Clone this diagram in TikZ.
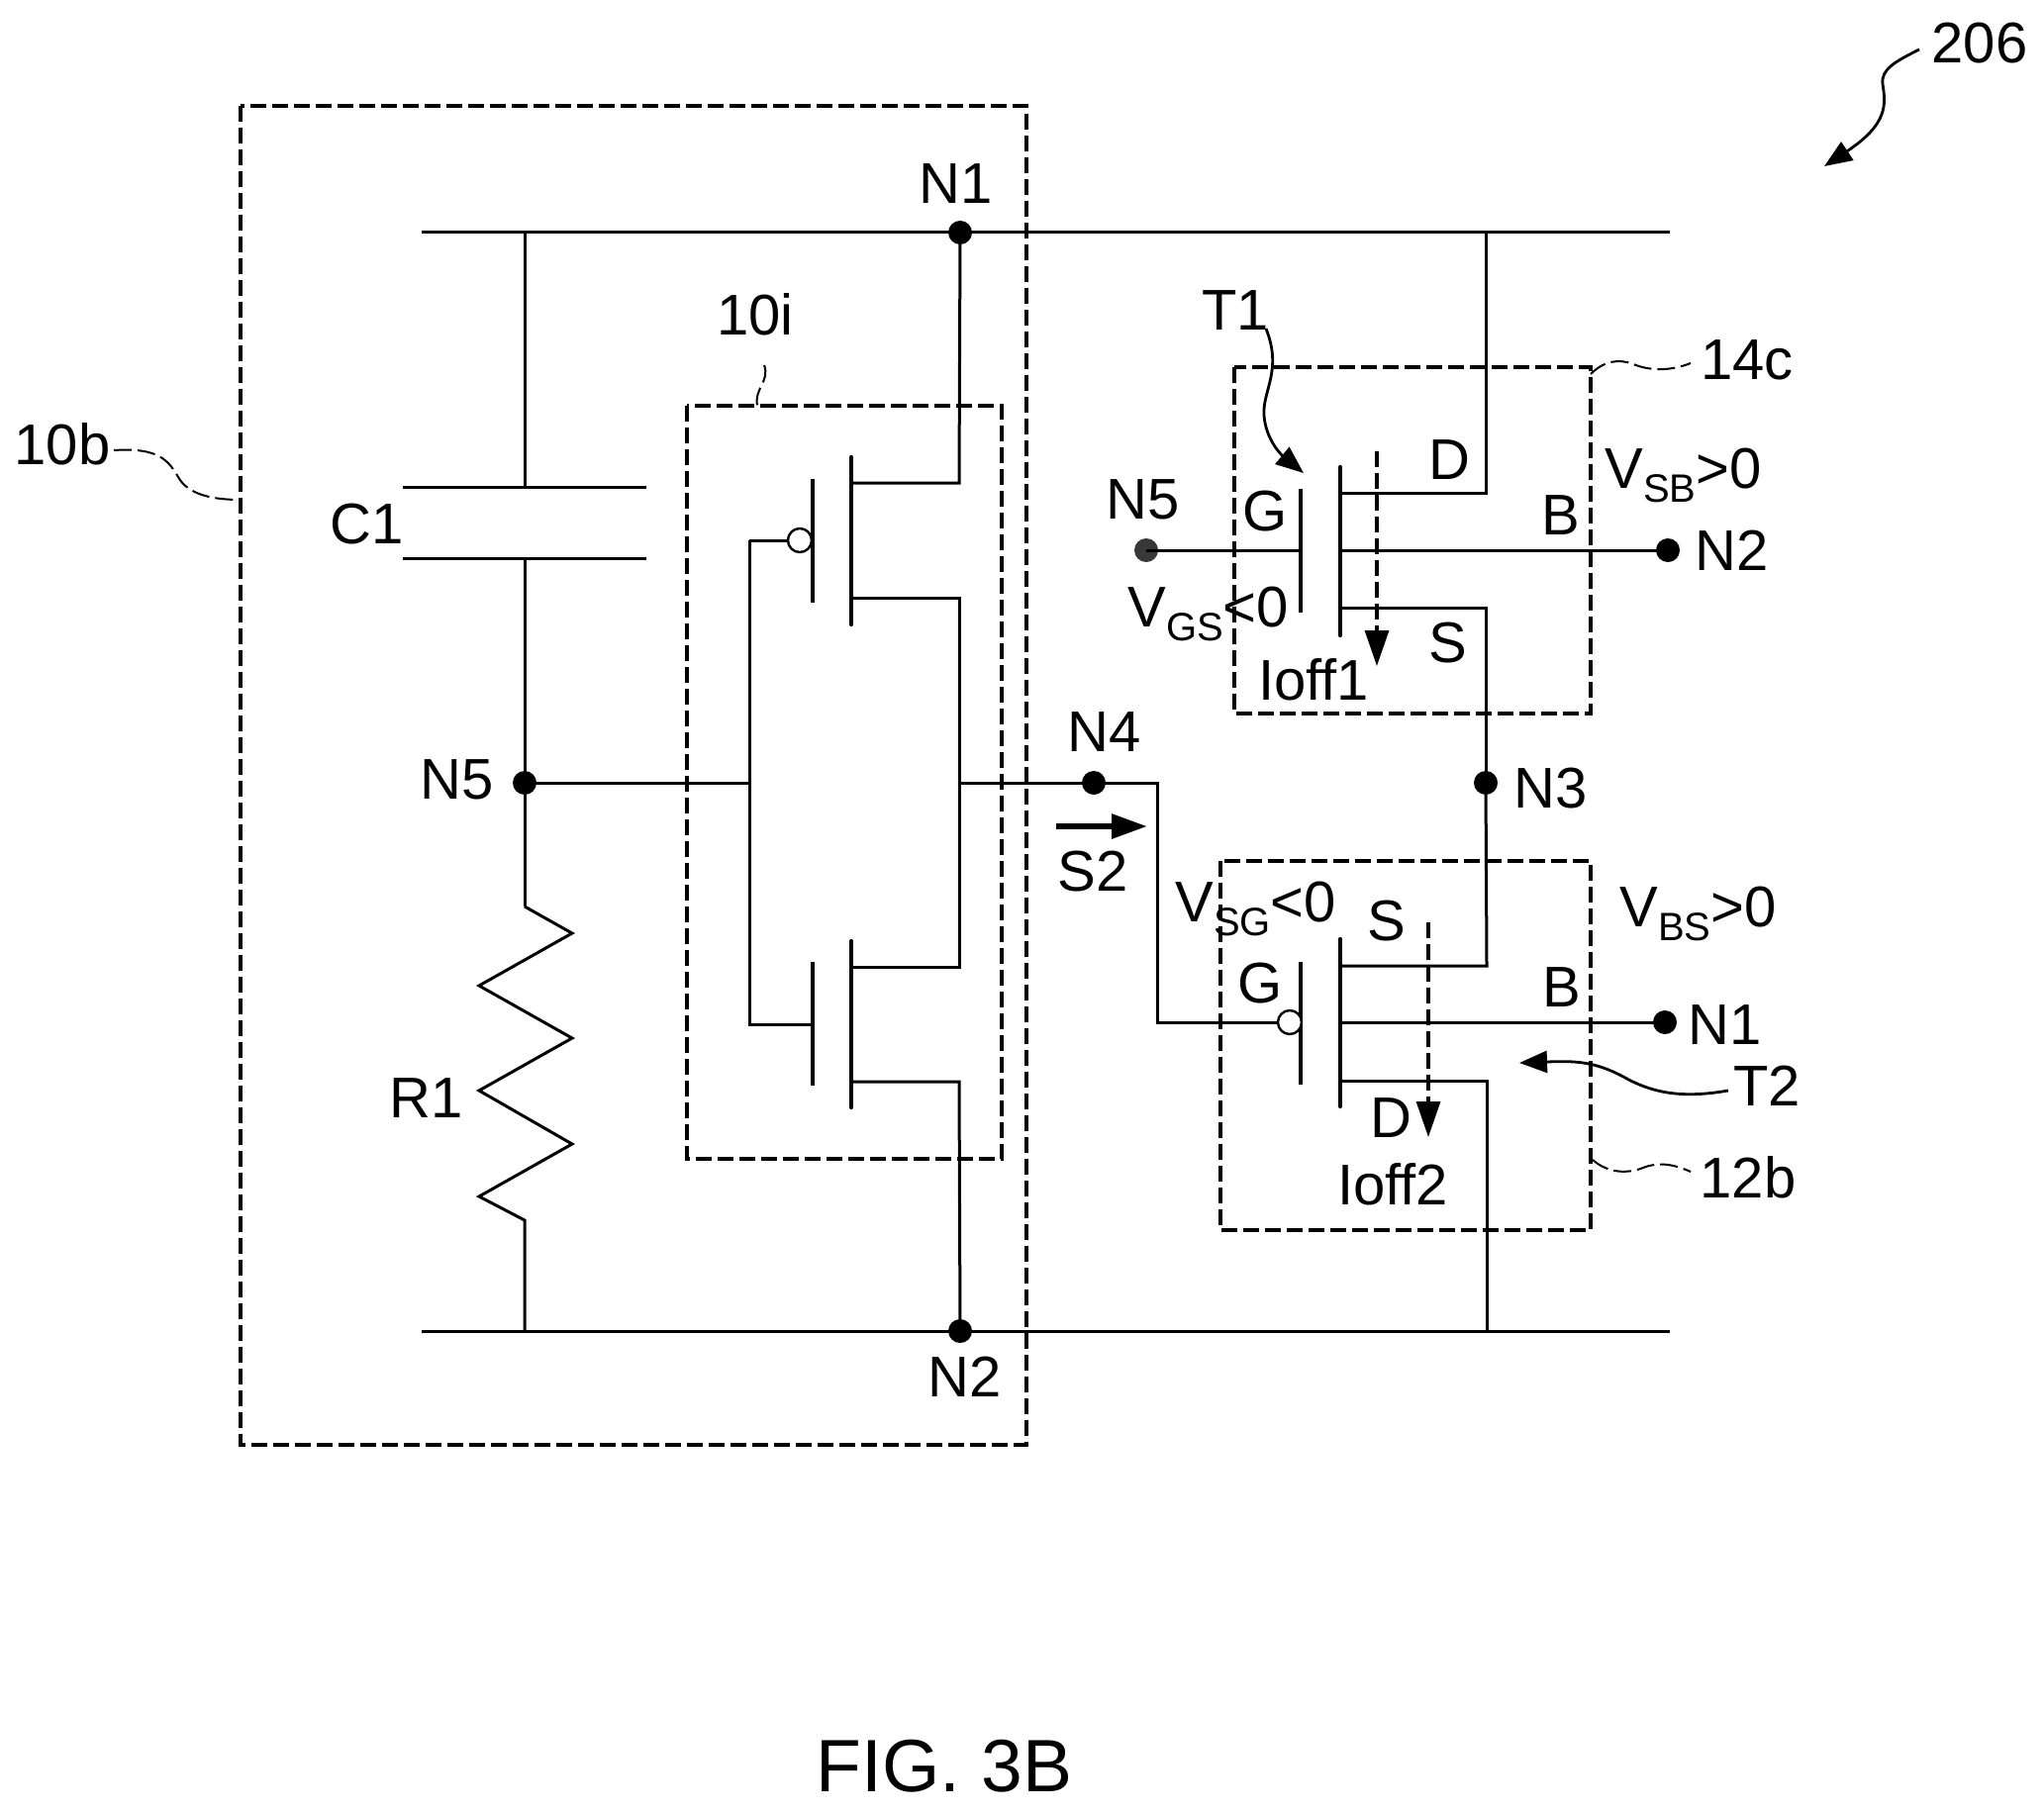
\documentclass[tikz,border=0pt]{standalone}
\usepackage{fontspec}
\setmainfont{Liberation Sans}
\usetikzlibrary{arrows.meta}
\newcommand{\vlab}[3]{{\fontsize{29}{29}\selectfont V\raisebox{-7pt}{\fontsize{20}{20}\selectfont #1}#2#3}}
\tikzset{
  wire/.style={line width=1.5pt,line join=miter},
  gatebar/.style={line width=1.8pt},
  chanbar/.style={line width=2.1pt,line cap=round},
  boxdash/.style={line width=1.8pt,dash pattern=on 8pt off 3pt},
  leaddash/.style={line width=1pt,dash pattern=on 9pt off 3pt},
  curdash/.style={line width=1.6pt,dash pattern=on 8pt off 3pt,-{Triangle[length=18pt,width=12pt]}},
  curvedl/.style={line width=1.4pt,-{Triangle[length=14pt,width=11pt]}},
  dotn/.style={circle,fill=black,inner sep=0pt,minimum size=12pt},
  stipn/.style={circle,fill=black!78,inner sep=0pt,minimum size=12pt},
  bub/.style={circle,draw,fill=white,line width=1.2pt,inner sep=0pt,minimum size=12pt},
  txt/.style={inner sep=0pt,font=\fontsize{29}{29}\selectfont},
  vtxt/.style={inner sep=0pt,anchor=base west},
}
\begin{document}
\begin{tikzpicture}[x=0.5pt,y=-0.5pt]
\useasboundingbox (0,0) rectangle (2065,1830);
% named points
\coordinate (busTL) at (426,235); \coordinate (busTR) at (1687,235);
\coordinate (busBL) at (426,1345); \coordinate (busBR) at (1687,1345);
\coordinate (capTop) at (530,235); \coordinate (capA) at (530,492);
\coordinate (capB) at (530,564); \coordinate (resTop) at (530,916);
\coordinate (resBot) at (530,1233); \coordinate (capBot) at (530,1345);
\coordinate (plAL) at (407,492); \coordinate (plAR) at (653,492);
\coordinate (plBL) at (407,564); \coordinate (plBR) at (653,564);
% dots
\node[dotn] (dN1) at (970,235) {};
\node[dotn] (dN2) at (970,1345) {};
\node[dotn] (dN5) at (530,791) {};
\node[dotn] (dN4) at (1105,791) {};
\node[dotn] (dN3) at (1501,791) {};
\node[stipn] (dN5b) at (1158,556) {};
\node[dotn] (dN2b) at (1685,556) {};
\node[dotn] (dN1b) at (1682,1033) {};
% buses and capacitor
\draw[wire] (busTL) -- (busTR);
\draw[wire] (busBL) -- (busBR);
\draw[wire] (capTop) -- (capA);
\draw[wire] (plAL) -- (plAR);
\draw[wire] (plBL) -- (plBR);
\draw[wire] (capB) -- (dN5.center) -- (resTop);
\draw[wire] (resTop) -- (578,943) -- (484,996) -- (578,1049) -- (484,1102) -- (578,1156) -- (484,1209) -- (resBot) -- (capBot);
% inverter 10i
\coordinate (invIn) at (757,791); \coordinate (invOut) at (969,791);
\coordinate (pG) at (757,546); \coordinate (nG) at (757,1035);
\coordinate (pD) at (969,488); \coordinate (pS) at (969,604);
\coordinate (nD) at (969,977); \coordinate (nS) at (969,1093);
\draw[wire] (dN5.center) -- (invIn);
\draw[wire] (dN1.center) -- (pD) -- (860,488);
\draw[wire] (860,604) -- (pS) -- (nD) -- (860,977);
\draw[wire] (860,1093) -- (nS) -- (dN2.center);
\draw[wire] (invOut) -- (dN4.center);
\draw[wire] (pG) -- (nG) -- (821,1035);
\draw[wire] (pG) -- (800,546);
\draw[gatebar] (821,484) -- (821,609);
\draw[chanbar] (860,462) -- (860,631);
\draw[gatebar] (821,972) -- (821,1097);
\draw[chanbar] (860,951) -- (860,1119);
\node[bub] (bub1) at (808,546) {};
% T1
\coordinate (t1D) at (1501,498); \coordinate (t1S) at (1501,614);
\coordinate (t1Top) at (1501,235);
\draw[wire] (t1Top) -- (t1D) -- (1354,498);
\draw[wire] (1354,614) -- (t1S) -- (dN3.center);
\draw[wire] (dN5b.center) -- (1314,556);
\draw[wire] (1354,556) -- (dN2b.center);
\draw[gatebar] (1314,494) -- (1314,619);
\draw[chanbar] (1354,472) -- (1354,642);
% T2
\coordinate (t2S) at (1502,976); \coordinate (t2D) at (1502,1092);
\coordinate (t2Bot) at (1502,1345);
\coordinate (gT) at (1169,791); \coordinate (gB) at (1169,1033);
\draw[wire] (dN4.center) -- (gT) -- (gB) -- (1292,1033);
\draw[wire] (dN3.center) -- (t2S) -- (1354,976);
\draw[wire] (1354,1092) -- (t2D) -- (t2Bot);
\draw[wire] (1354,1033) -- (dN1b.center);
\draw[gatebar] (1314,972) -- (1314,1096);
\draw[chanbar] (1354,949) -- (1354,1118);
\node[bub] (bub2) at (1303,1033) {};
% dashed boxes
\draw[boxdash] (243,107) rectangle (1037,1460);
\draw[boxdash] (694,410) rectangle (1012,1171);
\draw[boxdash] (1247,371) rectangle (1607,721);
\draw[boxdash] (1233,870) rectangle (1607,1243);
% current arrows
\coordinate (i1a) at (1391,456); \coordinate (i1b) at (1391,673);
\coordinate (i2a) at (1443,932); \coordinate (i2b) at (1443,1149);
\draw[curdash] (i1a) -- (i1b);
\draw[curdash] (i2a) -- (i2b);
% S2 arrow
\coordinate (s2a) at (1067,835); \coordinate (s2b) at (1159,835);
\draw[line width=3pt,-{Triangle[length=18pt,width=12pt]}] (s2a) -- (s2b);
% leaders
\coordinate (l206a) at (1939,50); \coordinate (l206b) at (1843,168);
\draw[curvedl] (l206a) .. controls (1915,62) and (1900,70) .. (1902,85) .. controls (1905,105) and (1908,125) .. (l206b);
\coordinate (lT1a) at (1279,332); \coordinate (lT1b) at (1317,478);
\draw[curvedl] (lT1a) .. controls (1296,375) and (1275,395) .. (1277,420) .. controls (1279,445) and (1295,460) .. (lT1b);
\coordinate (lT2a) at (1746,1102); \coordinate (lT2b) at (1535,1074);
\draw[curvedl] (lT2a) .. controls (1700,1110) and (1670,1105) .. (1640,1088) .. controls (1610,1072) and (1590,1072) .. (lT2b);
\coordinate (l10ba) at (115,455); \coordinate (l10bb) at (243,505);
\draw[leaddash] (l10ba) .. controls (160,452) and (170,465) .. (180,482) .. controls (190,500) and (215,505) .. (l10bb);
\coordinate (l10ia) at (772,369); \coordinate (l10ib) at (765,410);
\draw[leaddash] (l10ia) .. controls (778,385) and (762,392) .. (l10ib);
\coordinate (l14a) at (1607,378); \coordinate (l14b) at (1708,367);
\draw[leaddash] (l14a) .. controls (1620,365) and (1635,362) .. (1650,368) .. controls (1665,374) and (1685,376) .. (l14b);
\coordinate (l12a) at (1609,1172); \coordinate (l12b) at (1708,1184);
\draw[leaddash] (l12a) .. controls (1625,1186) and (1645,1186) .. (1660,1180) .. controls (1675,1174) and (1690,1176) .. (l12b);
% labels
\node[txt] (t206) at (2000,44) {206};
\node[txt] (t10b) at (63,449) {10b};
\node[txt] (t10i) at (763,318) {10i};
\node[txt] (tC1) at (371,530) {C1};
\node[txt] (tR1) at (431,1110) {R1};
\node[txt] (tN5a) at (462,788) {N5};
\node[txt] (tN1a) at (966,186) {N1};
\node[txt] (tN2a) at (975,1391) {N2};
\node[txt] (tN4) at (1116,740) {N4};
\node[txt] (tN3) at (1567,797) {N3};
\node[txt] (tS2) at (1104,881) {S2};
\node[txt] (tT1) at (1248,314) {T1};
\node[txt] (t14c) at (1765,364) {14c};
\node[txt] (tN5b) at (1155,505) {N5};
\node[txt] (tN2b) at (1750,556) {N2};
\node[txt] (tG1) at (1278,517) {G};
\node[txt] (tD1) at (1464,465) {D};
\node[txt] (tB1) at (1577,521) {B};
\node[txt] (tS1) at (1463,650) {S};
\node[txt] (tI1) at (1327,687) {Ioff1};
\node[txt] (tN1b) at (1743,1036) {N1};
\node[txt] (tT2) at (1785,1097) {T2};
\node[txt] (t12b) at (1766,1190) {12b};
\node[txt] (tG2) at (1273,994) {G};
\node[txt] (tS3) at (1401,931) {S};
\node[txt] (tB2) at (1578,998) {B};
\node[txt] (tD2) at (1405,1130) {D};
\node[txt] (tI2) at (1407,1197) {Ioff2};
\node[vtxt] (vsb) at (1621,493) {\vlab{SB}{>}{0}};
\node[vtxt] (vgs) at (1139,633) {\vlab{GS}{<}{0}};
\node[vtxt] (vsg) at (1187,931) {\vlab{SG}{<}{0}};
\node[vtxt] (vbs) at (1636,936) {\vlab{BS}{>}{0}};
\node[inner sep=0pt,font=\fontsize{37.5}{38}\selectfont] (fig) at (954,1785) {FIG. 3B};
\end{tikzpicture}
\end{document}
